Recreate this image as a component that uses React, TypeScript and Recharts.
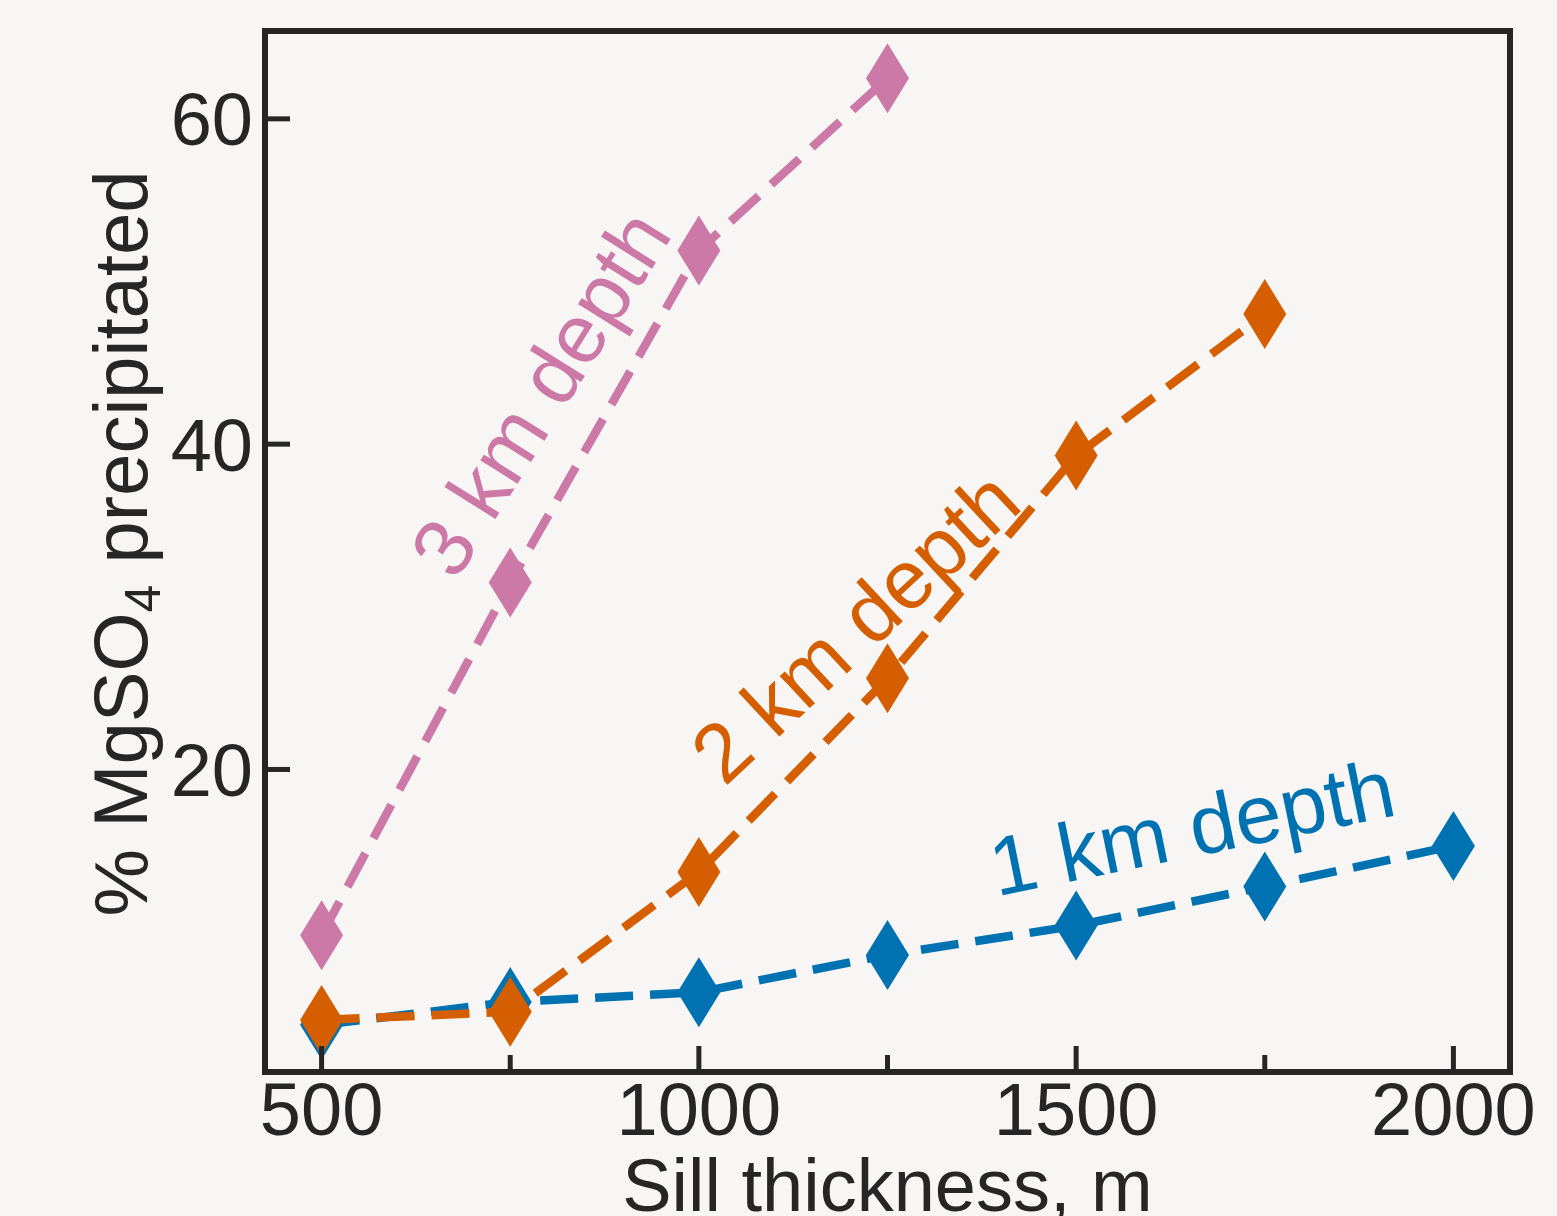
import { Label, Line, LineChart, ReferenceDot, XAxis, YAxis } from 'recharts';

const thickness = [500, 750, 1000, 1250, 1500, 1750, 2000];
const depth1km = [4.3, 5.7, 6.3, 8.6, 10.4, 12.8, 15.3];
const depth2km = [4.6, 5.1, 13.7, 25.6, 39.3, 48.0];
const depth3km = [9.8, 31.5, 51.9, 62.5];

const xTicks = [500, 750, 1000, 1250, 1500, 1750, 2000];
const yTicks = [20, 40, 60];

// annotation labels: [x, y, angle, text, colour]
const annotations: [number, number, number, string, string][] = [
  [1661, 14.7, -11.5, '1 km depth', '#0072B2'],
  [1233, 27.5, -43, '2 km depth', '#D55E00'],
  [822, 42.2, -58, '3 km depth', '#CC79A7'],
];

const AXIS = '#262626';
const FONT = '"Liberation Sans", Arial, Helvetica, sans-serif';

const toRows = (ys: number[]) => ys.map((y, i) => ({ x: thickness[i], y }));

function Diamond({ cx, cy, color }: any) {
  if (cx == null || cy == null) return null;
  const w = 21.5;
  const h = 35;
  return (
    <polygon
      points={`${cx},${cy - h} ${cx + w},${cy} ${cx},${cy + h} ${cx - w},${cy}`}
      fill={color}
    />
  );
}

function BottomTick({ x, y, payload }: any) {
  const major = payload.value % 500 === 0;
  return (
    <g>
      <line x1={x} x2={x} y1={y} y2={y - (major ? 26 : 17)} stroke={AXIS} strokeWidth={5} />
      {major && (
        <text x={x} y={y + 63} textAnchor="middle" fontSize={74} fontFamily={FONT} fill={AXIS}>
          {payload.value}
        </text>
      )}
    </g>
  );
}

function TopTick({ x, y, payload }: any) {
  const major = payload.value % 500 === 0;
  return <line x1={x} x2={x} y1={y} y2={y + (major ? 26 : 17)} stroke={AXIS} strokeWidth={5} />;
}

function LeftTick({ x, y, payload }: any) {
  return (
    <g>
      <line x1={x} x2={x + 25} y1={y} y2={y} stroke={AXIS} strokeWidth={5} />
      <text x={x - 12} y={y + 26.5} textAnchor="end" fontSize={74} fontFamily={FONT} fill={AXIS}>
        {payload.value}
      </text>
    </g>
  );
}

function RightTick({ x, y }: any) {
  return <line x1={x} x2={x - 25} y1={y} y2={y} stroke={AXIS} strokeWidth={5} />;
}

function YTitle({ viewBox }: any) {
  const cx = viewBox.x + 147;
  const cy = viewBox.y + viewBox.height / 2 - 8;
  return (
    <text
      x={cx}
      y={cy}
      transform={`rotate(-90, ${cx}, ${cy})`}
      textAnchor="middle"
      fontSize={76}
      fontFamily={FONT}
      fill={AXIS}
    >
      % MgSO
      <tspan fontSize={50} dy={13}>4</tspan>
      <tspan dy={-13}> precipitated</tspan>
    </text>
  );
}

function XTitle({ viewBox }: any) {
  return (
    <text
      x={viewBox.x + viewBox.width / 2}
      y={viewBox.y + 139}
      textAnchor="middle"
      fontSize={74}
      fontFamily={FONT}
      fill={AXIS}
    >
      Sill thickness, m
    </text>
  );
}

function RotatedText({ cx, cy, angle, text, color }: any) {
  return (
    <text
      x={cx}
      y={cy}
      transform={`rotate(${angle}, ${cx}, ${cy})`}
      textAnchor="middle"
      fontSize={83}
      fontFamily={FONT}
      fill={color}
    >
      {text}
    </text>
  );
}

const series = [
  { name: '1 km', data: toRows(depth1km), color: '#0072B2' },
  { name: '2 km', data: toRows(depth2km), color: '#D55E00' },
  { name: '3 km', data: toRows(depth3km), color: '#CC79A7' },
];

const axisLine = { stroke: AXIS, strokeWidth: 6, strokeLinecap: 'square' as const };

export default function App() {
  return (
    <div style={{ position: 'absolute', left: 0, top: 0, width: 1557, height: 1216, background: '#f7f6f4' }}>
      <LineChart width={1557} height={1216} margin={{ top: 30, right: 0, bottom: 0, left: 0 }}>
        <XAxis
          dataKey="x"
          type="number"
          domain={[425, 2075]}
          ticks={xTicks}
          interval={0}
          height={144}
          tickSize={0}
          tickMargin={0}
          tickLine={false}
          axisLine={axisLine}
          tick={<BottomTick />}
        >
          <Label content={<XTitle />} />
        </XAxis>
        <XAxis
          xAxisId="top"
          orientation="top"
          dataKey="x"
          type="number"
          domain={[425, 2075]}
          ticks={xTicks}
          interval={0}
          height={1}
          tickSize={0}
          tickMargin={0}
          tickLine={false}
          axisLine={axisLine}
          tick={<TopTick />}
        />
        <YAxis
          type="number"
          domain={[1.4, 65.4]}
          ticks={yTicks}
          interval={0}
          width={265}
          tickSize={0}
          tickMargin={0}
          tickLine={false}
          axisLine={axisLine}
          tick={<LeftTick />}
        >
          <Label content={<YTitle />} />
        </YAxis>
        <YAxis
          yAxisId="right"
          orientation="right"
          type="number"
          domain={[1.4, 65.4]}
          ticks={yTicks}
          interval={0}
          width={47}
          tickSize={0}
          tickMargin={0}
          tickLine={false}
          axisLine={axisLine}
          tick={<RightTick />}
        />
        {series.map((s) => (
          <Line
            key={s.name}
            data={s.data}
            dataKey="y"
            stroke={s.color}
            strokeWidth={8.5}
            strokeDasharray="38 17"
            dot={(p: any) => <Diamond key={`${s.name}-${p.index}`} cx={p.cx} cy={p.cy} color={s.color} />}
            activeDot={false}
            isAnimationActive={false}
          />
        ))}
        {annotations.map(([x, y, angle, text, color]) => (
          <ReferenceDot
            key={text}
            x={x}
            y={y}
            r={0}
            ifOverflow="visible"
            shape={(p: any) => <RotatedText cx={p.cx} cy={p.cy} angle={angle} text={text} color={color} />}
          />
        ))}
      </LineChart>
    </div>
  );
}
